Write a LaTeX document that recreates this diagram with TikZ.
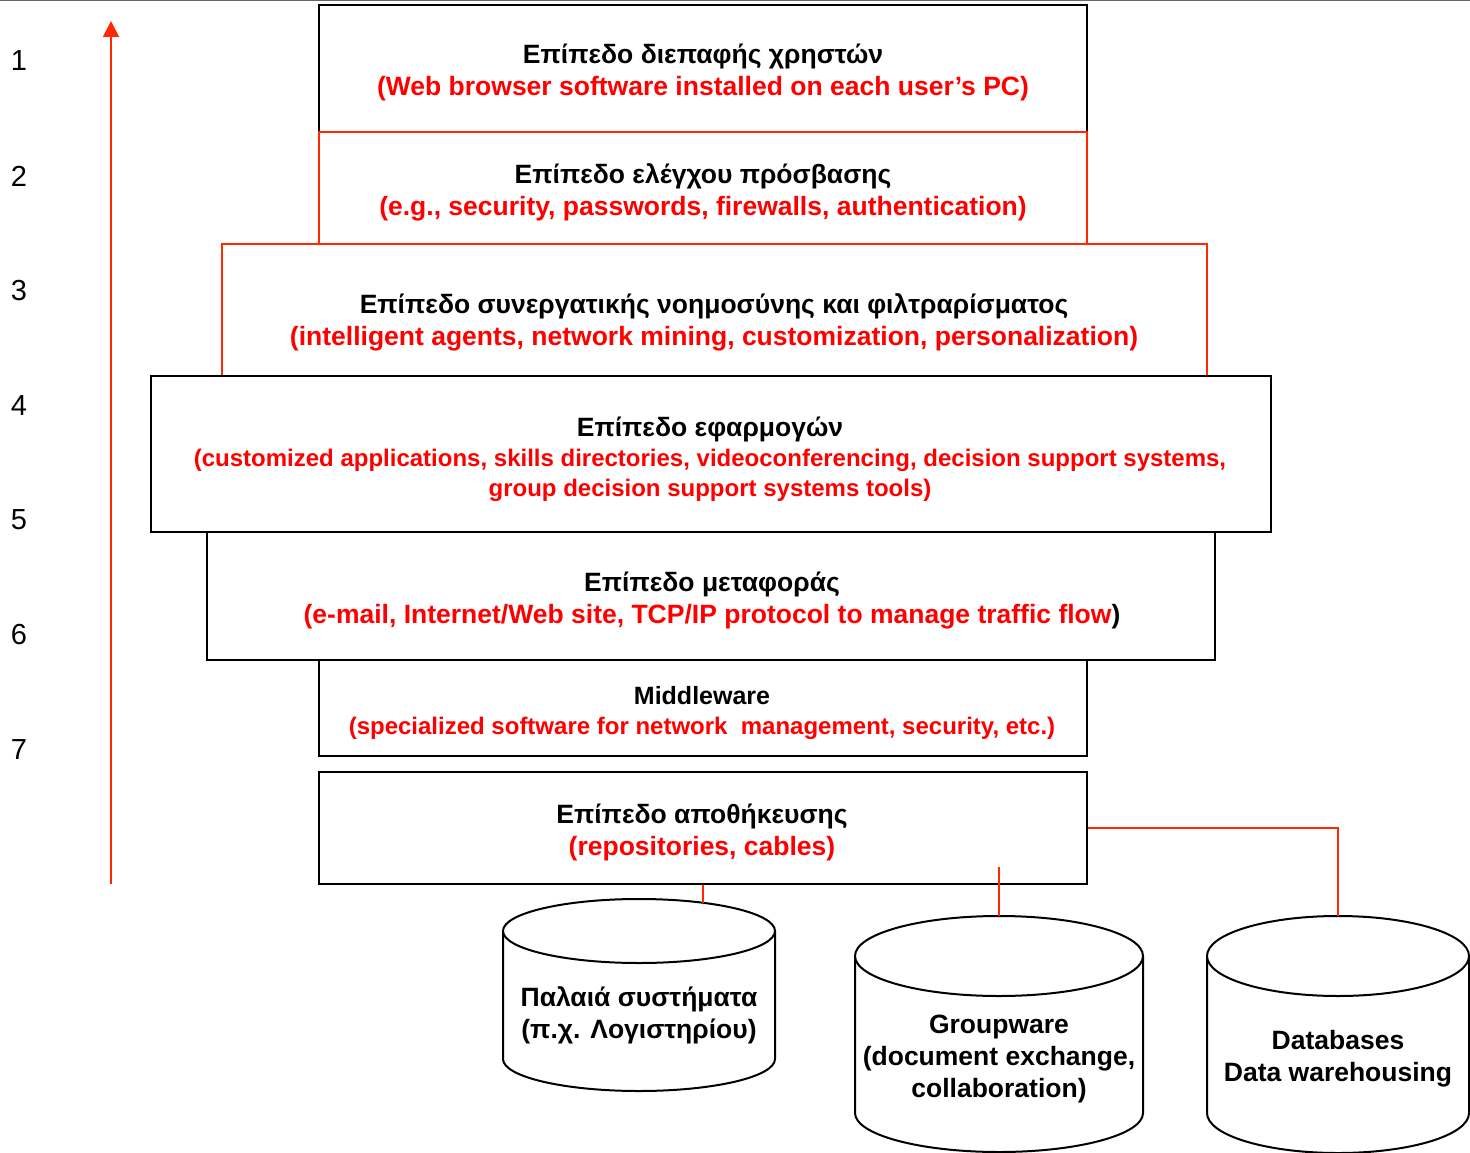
\documentclass[tikz,border=0pt]{standalone}
\usepackage{fontspec}
\setmainfont{Liberation Sans}
\usetikzlibrary{arrows.meta}
\definecolor{lred}{RGB}{255,40,0}
\definecolor{tred}{RGB}{255,0,0}
\tikzset{
  layer/.style={draw=black, line width=2pt, fill=white, inner sep=0pt},
  redlayer/.style={draw=lred, line width=2pt, fill=white, inner sep=0pt},
  big/.style={font=\bfseries\fontsize{26.5}{32}\selectfont, align=center, inner sep=0pt},
  small/.style={font=\bfseries\fontsize{24}{30}\selectfont, align=center, inner sep=0pt},
  num/.style={font=\fontsize{29}{34}\selectfont, inner sep=0pt},
  cyl/.style={draw=black, line width=2pt, fill=white},
  link/.style={draw=lred, line width=2pt},
  cyltext/.style={font=\bfseries\fontsize{26.5}{32}\selectfont, align=center, inner sep=0pt}
}
\begin{document}
\begin{tikzpicture}[x=1pt,y=-1pt]
\useasboundingbox (0,0) rectangle (1470,1153);
\draw[gray!80!black, line width=1.5pt] (0,0.7) -- (1470,0.7);

% arrow
\coordinate (abot) at (111,884);
\coordinate (atop) at (111,21);
\draw[lred, line width=2pt, -{Triangle[width=16pt,length=16pt]}] (abot) -- (atop);

% numbers
\foreach \n/\y in {1/61,2/176,3/291,4/406,5/520,6/635,7/750}
  \node[num] (n\n) at (19,\y) {\n};

% boxes
\node[layer, minimum width=768pt, minimum height=127pt] (b1) at (703,68.5) {};
\node[redlayer, minimum width=768pt, minimum height=112pt] (b2) at (703,188) {};
\node[redlayer, minimum width=985pt, minimum height=132pt] (b3) at (714.5,310) {};
\node[layer, minimum width=1120pt, minimum height=156pt] (b4) at (711,454) {};
\node[layer, minimum width=1008pt, minimum height=128pt] (b5) at (711,596) {};
\node[layer, minimum width=768pt, minimum height=96pt] (b6) at (703,708) {};
\node[layer, minimum width=768pt, minimum height=112pt] (b7) at (703,828) {};

% texts
\node[big] (t1) at (703,72) {Επίπεδο διεπαφής χρηστών\\\textcolor{tred}{(Web browser software installed on each user’s PC)}};
\node[big] (t2) at (703,192) {Επίπεδο ελέγχου πρόσβασης\\\textcolor{tred}{(e.g., security, passwords, firewalls, authentication)}};
\node[big] (t3) at (714,322) {Επίπεδο συνεργατικής νοημοσύνης και φιλτραρίσματος\\\textcolor{tred}{(intelligent agents, network mining, customization, personalization)}};
\node[small] (t4) at (710,459) {{\fontsize{26.5}{32}\selectfont Επίπεδο εφαρμογών}\\\textcolor{tred}{(customized applications, skills directories, videoconferencing, decision support systems,}\\\textcolor{tred}{group decision support systems tools)}};
\node[big] (t5) at (712,601) {Επίπεδο μεταφοράς\\\textcolor{tred}{(e-mail, Internet/Web site, TCP/IP protocol to manage traffic flow})};
\node[small] (t6) at (702,713) {{\fontsize{25}{30}\selectfont Middleware}\\\textcolor{tred}{(specialized software for network\ \ management, security, etc.)}};
\node[big] (t7) at (702,832) {Επίπεδο αποθήκευσης\\\textcolor{tred}{(repositories, cables)}};

% cylinders
\draw[cyl] (503,931) -- (503,1059) arc[start angle=180, end angle=0, x radius=136, y radius=32] -- (775,931);
\draw[cyl] (639,931) ellipse[x radius=136, y radius=32];
\draw[cyl] (855,956) -- (855,1113) arc[start angle=180, end angle=0, x radius=144, y radius=39] -- (1143,956);
\draw[cyl] (999,956) ellipse[x radius=144, y radius=40];
\draw[cyl] (1207,956) -- (1207,1113) arc[start angle=180, end angle=0, x radius=131, y radius=40] -- (1469,956);
\draw[cyl] (1338,956) ellipse[x radius=131, y radius=40];

\coordinate (c1top) at (703,903);
\coordinate (c2top) at (999,916);
\coordinate (c3top) at (1338,916);
\coordinate (g0) at (999,867);

\node[cyltext] (ct1) at (639,1015) {Παλαιά συστήματα\\(π.χ. Λογιστηρίου)};
\node[cyltext] (ct2) at (999,1059) {Groupware\\(document exchange,\\collaboration)};
\node[cyltext] (ct3) at (1338,1059) {Databases\\Data warehousing};

% connectors
\draw[link] (b7.south -| c1top) -- (c1top);
\draw[link] (g0) -- (c2top);
\draw[link] (b7.east) -| (c3top);
\end{tikzpicture}
\end{document}
